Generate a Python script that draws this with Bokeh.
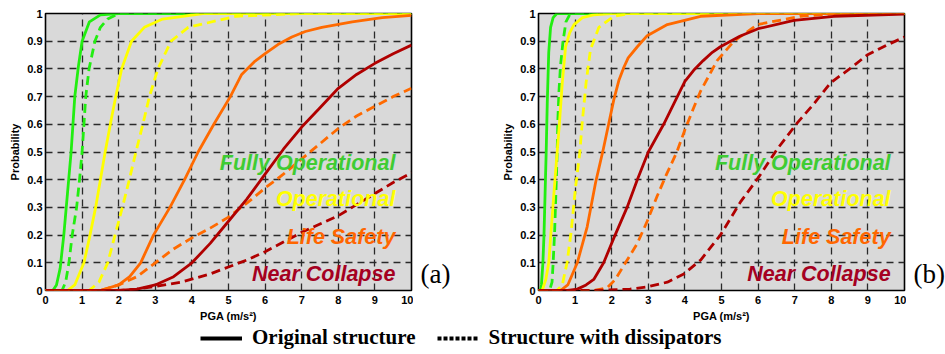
from bokeh.plotting import figure
from bokeh.layouts import column, row
from bokeh.models import (FixedTicker, NumeralTickFormatter, Label, Legend, LegendItem,
                          Range1d)
from bokeh.embed import file_html
from bokeh.resources import INLINE

# ---------------- data ----------------
levels = ["Fully Operational", "Operational", "Life Safety", "Near Collapse"]
curve_colors = ["#22ee11", "#ffff00", "#ff6a00", "#b00000"]
label_colors = ["#3fcc33", "#ffff00", "#ff6600", "#a50021"]
x_ticks = [0, 1, 2, 3, 4, 5, 6, 7, 8, 9, 10]
y_ticks = [0, 0.1, 0.2, 0.3, 0.4, 0.5, 0.6, 0.7, 0.8, 0.9, 1]
legend_labels = ["Original structure", "Structure with dissipators"]
panel_tags = ["(a)", "(b)"]

# panel (a) - original structure
a_fo_orig_x = [0, 0.2, 0.3, 0.4, 0.5, 0.6, 0.7, 0.8, 0.9, 1.0, 1.2, 1.5, 2.0, 10]
a_fo_orig_y = [0, 0, 0.02, 0.08, 0.2, 0.35, 0.5, 0.7, 0.81, 0.9, 0.97, 0.995, 1.0, 1.0]
a_op_orig_x = [0, 0.6, 0.8, 1.05, 1.2, 1.37, 1.5, 1.63, 1.8, 1.92, 2.08, 2.35, 2.7, 3.2, 4.3, 10]
a_op_orig_y = [0, 0, 0.02, 0.1, 0.19, 0.3, 0.4, 0.5, 0.62, 0.7, 0.8, 0.9, 0.95, 0.98, 1.0, 1.0]
a_ls_orig_x = [0, 1.5, 2.0, 2.3, 2.6, 2.95, 3.4, 3.8, 4.17, 4.6, 5.05, 5.36, 5.7, 6.0, 6.35, 6.73, 7.1, 7.55, 8.38, 9.2, 10]
a_ls_orig_y = [0, 0, 0.02, 0.05, 0.1, 0.2, 0.3, 0.4, 0.5, 0.6, 0.7, 0.78, 0.825, 0.855, 0.888, 0.915, 0.935, 0.95, 0.97, 0.985, 0.993]
a_nc_orig_x = [0, 2, 2.5, 3, 3.5, 4, 4.5, 5, 5.5, 6, 6.5, 7, 7.5, 8, 8.5, 9, 9.5, 10]
a_nc_orig_y = [0, 0, 0.005, 0.02, 0.05, 0.1, 0.17, 0.25, 0.33, 0.42, 0.51, 0.59, 0.66, 0.73, 0.78, 0.82, 0.855, 0.886]
# panel (a) - structure with dissipators
a_fo_diss_x = [0, 0.45, 0.55, 0.64, 0.73, 0.85, 0.93, 1.0, 1.05, 1.1, 1.19, 1.35, 1.5, 1.7, 2.0, 10]
a_fo_diss_y = [0, 0, 0.03, 0.1, 0.2, 0.3, 0.4, 0.5, 0.6, 0.7, 0.8, 0.9, 0.95, 0.98, 1.0, 1.0]
a_op_diss_x = [0, 1.19, 1.46, 1.7, 1.9, 2.1, 2.29, 2.47, 2.66, 2.84, 3.07, 3.43, 3.9, 5.2, 7, 10]
a_op_diss_y = [0, 0, 0.03, 0.1, 0.2, 0.3, 0.4, 0.5, 0.6, 0.7, 0.8, 0.9, 0.95, 0.99, 1.0, 1.0]
a_ls_diss_x = [0, 1.5, 2, 2.5, 3, 3.5, 4, 4.5, 5, 5.5, 6, 6.5, 7, 7.5, 8, 8.5, 9, 9.5, 10]
a_ls_diss_y = [0, 0, 0.02, 0.05, 0.1, 0.15, 0.19, 0.225, 0.265, 0.315, 0.37, 0.42, 0.475, 0.53, 0.585, 0.63, 0.665, 0.70, 0.73]
a_nc_diss_x = [0, 2, 2.5, 3, 3.7, 4.5, 5, 5.5, 6, 6.5, 7, 7.5, 8, 8.5, 9, 9.5, 10]
a_nc_diss_y = [0, 0, 0.005, 0.015, 0.03, 0.06, 0.085, 0.11, 0.14, 0.175, 0.21, 0.24, 0.27, 0.31, 0.35, 0.39, 0.425]

# panel (b) - original structure
b_fo_orig_x = [0, 0.05, 0.08, 0.12, 0.15, 0.18, 0.21, 0.24, 0.28, 0.33, 0.4, 0.5, 10]
b_fo_orig_y = [0, 0, 0.02, 0.1, 0.2, 0.35, 0.5, 0.68, 0.86, 0.95, 0.985, 1.0, 1.0]
b_op_orig_x = [0, 0.1, 0.2, 0.28, 0.37, 0.45, 0.51, 0.57, 0.65, 0.74, 0.85, 0.97, 1.2, 1.5, 2, 10]
b_op_orig_y = [0, 0, 0.04, 0.1, 0.26, 0.4, 0.5, 0.6, 0.75, 0.88, 0.93, 0.96, 0.985, 0.995, 1.0, 1.0]
b_ls_orig_x = [0, 0.6, 0.8, 1.06, 1.33, 1.56, 1.77, 2.06, 2.2, 2.33, 2.45, 2.7, 2.97, 3.52, 4.43, 6, 10]
b_ls_orig_y = [0, 0, 0.02, 0.1, 0.23, 0.39, 0.51, 0.69, 0.76, 0.805, 0.84, 0.88, 0.92, 0.96, 0.99, 1.0, 1.0]
b_nc_orig_x = [0, 0.8, 1.06, 1.3, 1.51, 1.78, 2.06, 2.42, 2.7, 3.0, 3.42, 3.83, 4.0, 4.24, 4.5, 4.75, 4.97, 5.5, 6.0, 6.98, 8.07, 10]
b_nc_orig_y = [0, 0, 0.005, 0.02, 0.04, 0.1, 0.19, 0.3, 0.4, 0.5, 0.6, 0.71, 0.755, 0.795, 0.83, 0.86, 0.88, 0.918, 0.945, 0.975, 0.99, 0.998]
# panel (b) - structure with dissipators
b_fo_diss_x = [0, 0.3, 0.37, 0.4, 0.44, 0.48, 0.51, 0.53, 0.56, 0.6, 0.67, 0.75, 0.85, 1, 10]
b_fo_diss_y = [0, 0, 0.03, 0.1, 0.21, 0.37, 0.5, 0.62, 0.72, 0.81, 0.9, 0.97, 0.995, 1.0, 1.0]
b_op_diss_x = [0, 0.5, 0.65, 0.78, 0.89, 1.01, 1.13, 1.19, 1.3, 1.42, 1.65, 2.06, 2.5, 10]
b_op_diss_y = [0, 0, 0.02, 0.1, 0.21, 0.37, 0.5, 0.6, 0.75, 0.87, 0.95, 0.99, 1.0, 1.0]
b_ls_diss_x = [0, 1.5, 1.88, 2.1, 2.33, 2.7, 2.97, 3.24, 3.5, 3.78, 4.0, 4.24, 4.43, 4.88, 5.34, 5.98, 7.16, 8.2, 10]
b_ls_diss_y = [0, 0, 0.01, 0.04, 0.09, 0.17, 0.25, 0.34, 0.42, 0.5, 0.58, 0.66, 0.72, 0.83, 0.9, 0.96, 0.99, 1.0, 1.0]
b_nc_diss_x = [0, 1.5, 2.5, 2.97, 3.52, 3.97, 4.43, 4.97, 5.52, 6.02, 6.52, 7.07, 7.5, 7.98, 8.5, 8.98, 9.5, 10]
b_nc_diss_y = [0, 0, 0.005, 0.013, 0.03, 0.06, 0.11, 0.2, 0.32, 0.41, 0.51, 0.605, 0.67, 0.75, 0.8, 0.85, 0.885, 0.915]

panel_a = [((a_fo_orig_x, a_fo_orig_y), (a_fo_diss_x, a_fo_diss_y)),
           ((a_op_orig_x, a_op_orig_y), (a_op_diss_x, a_op_diss_y)),
           ((a_ls_orig_x, a_ls_orig_y), (a_ls_diss_x, a_ls_diss_y)),
           ((a_nc_orig_x, a_nc_orig_y), (a_nc_diss_x, a_nc_diss_y))]
panel_b = [((b_fo_orig_x, b_fo_orig_y), (b_fo_diss_x, b_fo_diss_y)),
           ((b_op_orig_x, b_op_orig_y), (b_op_diss_x, b_op_diss_y)),
           ((b_ls_orig_x, b_ls_orig_y), (b_ls_diss_x, b_ls_diss_y)),
           ((b_nc_orig_x, b_nc_orig_y), (b_nc_diss_x, b_nc_diss_y))]

FONT = "Liberation Sans"
SERIF = "Liberation Serif"
FIG_H = 324
B_TOP = 13
B_BOT = 32


def make_panel(curves, label_right_x):
    p = figure(width=413, height=FIG_H, output_backend="svg", toolbar_location=None,
               x_range=Range1d(0, 10), y_range=Range1d(0, 1),
               min_border_left=45, min_border_right=2,
               min_border_top=B_TOP, min_border_bottom=B_BOT)
    p.background_fill_color = "#d9d9d9"
    p.border_fill_color = "white"
    p.outline_line_color = "black"
    p.outline_line_width = 1.6
    p.outline_line_alpha = 1.0

    p.xaxis.ticker = FixedTicker(ticks=x_ticks)
    p.yaxis.ticker = FixedTicker(ticks=y_ticks)
    p.yaxis.formatter = NumeralTickFormatter(format="0.[0]")
    p.xaxis.axis_label = "PGA (m/s\u00b2)"
    p.yaxis.axis_label = "Probability"
    for ax in (p.xaxis, p.yaxis):
        ax.axis_line_color = None
        ax.major_tick_in = 0
        ax.major_tick_out = 0
        ax.minor_tick_line_color = None
        ax.major_label_text_font = FONT
        ax.major_label_text_font_style = "bold"
        ax.major_label_text_font_size = "11px"
        ax.major_label_text_color = "black"
        ax.axis_label_text_font = FONT
        ax.axis_label_text_font_style = "bold"
        ax.axis_label_text_font_size = "11px"
        ax.axis_label_text_color = "black"
    p.xaxis.major_label_standoff = 5
    p.xaxis.axis_label_standoff = 3
    p.yaxis.major_label_standoff = 3
    p.yaxis.axis_label_standoff = 3

    for g in (p.xgrid, p.ygrid):
        g.grid_line_color = "#2a2a2a"
        g.grid_line_width = 1.3
        g.grid_line_dash = "7 5"
        g.grid_line_alpha = 1.0
    p.xgrid.ticker = FixedTicker(ticks=x_ticks)
    p.ygrid.ticker = FixedTicker(ticks=y_ticks)

    for (orig, diss), col in zip(curves, curve_colors):
        p.line(x=orig[0], y=orig[1], line_color=col, line_width=2.8, line_join="round")
        p.line(x=diss[0], y=diss[1], line_color=col, line_width=2.8, line_dash="9 5",
               line_join="round")

    label_ys = [0.462, 0.33, 0.194, 0.061]
    for name, col, ly in zip(levels, label_colors, label_ys):
        p.add_layout(Label(x=label_right_x, y=ly, text=name, text_align="right",
                           text_baseline="middle", text_font=FONT,
                           text_font_style="bold italic", text_font_size="21.5px",
                           text_color=col))
    return p


def make_tag(tag, width):
    t = figure(width=width, height=FIG_H, output_backend="svg", toolbar_location=None,
               x_range=Range1d(0, 1), y_range=Range1d(0, 1),
               min_border_left=0, min_border_right=0,
               min_border_top=B_TOP, min_border_bottom=B_BOT)
    t.axis.visible = False
    t.grid.visible = False
    t.outline_line_color = None
    t.add_layout(Label(x=7, x_units="screen", y=0.061, text=tag, text_align="left",
                       text_baseline="middle", text_font=SERIF,
                       text_font_size="27px", text_color="black"))
    return t


p1 = make_panel(panel_a, 9.56)
t1 = make_tag(panel_tags[0], 80)
p2 = make_panel(panel_b, 9.62)
t2 = make_tag(panel_tags[1], 39)

# legend strip
p3 = figure(width=945, height=30, output_backend="svg", toolbar_location=None,
            x_range=Range1d(0, 1), y_range=Range1d(0, 1),
            min_border_left=0, min_border_right=0, min_border_top=0, min_border_bottom=0)
p3.axis.visible = False
p3.grid.visible = False
p3.outline_line_color = None
r_solid = p3.line(x=[-5, -4], y=[-5, -4], line_color="black", line_width=4)
r_dot = p3.line(x=[-5, -4], y=[-5, -4], line_color="black", line_width=4, line_dash="4 2")
leg = Legend(items=[LegendItem(label=legend_labels[0], renderers=[r_solid]),
                    LegendItem(label=legend_labels[1], renderers=[r_dot])],
             orientation="horizontal", location=(200, 4),
             glyph_width=42, glyph_height=20, label_standoff=10, spacing=21,
             padding=0, margin=0, border_line_color=None, background_fill_alpha=0,
             label_text_font=SERIF, label_text_font_style="bold",
             label_text_font_size="21px", label_text_color="black")
p3.add_layout(leg, "center")

layout = column(row(p1, t1, p2, t2), p3)

open("out.html", "w").write(file_html(layout, INLINE))
